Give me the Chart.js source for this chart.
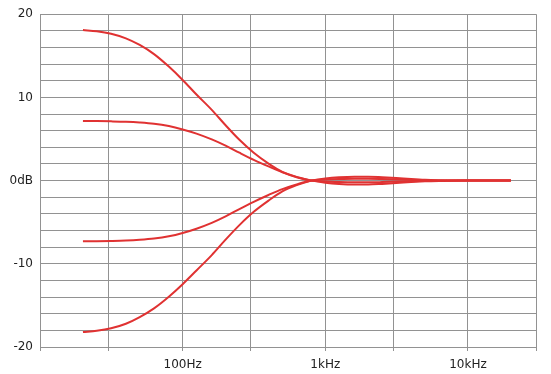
<!DOCTYPE html>
<html>
<head>
<meta charset="utf-8">
<script src="https://cdn.jsdelivr.net/npm/chart.js@4/dist/chart.umd.min.js"></script>
<style>
  html, body { margin: 0; padding: 0; background: #ffffff; }
  #wrap { width: 551px; height: 374px; }
</style>
</head>
<body>
<div id="wrap"><canvas id="c" width="551" height="374"></canvas></div>
<script>
// Frequencies (Hz) of the sampled points
const freqs = [20,25,31.5,40,50,63,80,100,125,160,200,250,315,400,500,630,800,1000,1250,1600,2000,2500,3150,4000,5000,6300,8000,10000,12500,16000,20000];
// Response curves (dB)
const boost18 = [18.1,17.95,17.65,17.1,16.3,15.2,13.7,12.1,10.35,8.5,6.65,4.9,3.35,2.05,1.05,0.4,0.0,-0.25,-0.4,-0.47,-0.47,-0.4,-0.3,-0.18,-0.09,-0.04,-0.01,0,0,0,0];
const boost7  = [7.17,7.15,7.12,7.07,6.98,6.83,6.55,6.15,5.65,4.95,4.2,3.35,2.5,1.7,1.0,0.45,0.0,-0.12,-0.18,-0.21,-0.21,-0.18,-0.13,-0.08,-0.04,-0.02,0,0,0,0,0];
const cut7    = [-7.3,-7.29,-7.26,-7.21,-7.12,-6.97,-6.7,-6.3,-5.78,-5.08,-4.3,-3.42,-2.55,-1.73,-1.02,-0.46,0.0,0.12,0.18,0.21,0.21,0.18,0.13,0.08,0.04,0.02,0,0,0,0,0];
const cut18   = [-18.2,-18.05,-17.75,-17.2,-16.4,-15.35,-13.95,-12.45,-10.8,-8.95,-7.1,-5.35,-3.75,-2.4,-1.3,-0.55,0.0,0.25,0.4,0.47,0.47,0.4,0.3,0.18,0.09,0.04,0.01,0,0,0,0];
// Axis ticks
const xGridValues = [10,30,100,300,1000,3000,10000,30000];
const xTickLabels = {100: '100Hz', 1000: '1kHz', 10000: '10kHz'};
const yLabelValues = [20, 10, 0, -10, -20];
const yLabelTexts  = ['20', '10', '0dB', '-10', '-20'];

const lineColor = 'rgb(224,50,50)';
const gridColor = '#929292';

function toPoints(ys) { return freqs.map((f, i) => ({x: f, y: ys[i]})); }

const series = [boost18, boost7, cut7, cut18];

new Chart(document.getElementById('c'), {
  type: 'line',
  data: {
    datasets: series.map(s => ({
      data: toPoints(s),
      borderColor: lineColor,
      borderWidth: 2,
      pointRadius: 0,
      fill: false,
      cubicInterpolationMode: 'monotone'
    }))
  },
  options: {
    responsive: false,
    animation: false,
    events: [],
    layout: { padding: { top: 13, right: 15, left: 0, bottom: 0 } },
    plugins: { legend: { display: false }, tooltip: { enabled: false } },
    scales: {
      x: {
        type: 'logarithmic',
        min: 10,
        max: 30000,
        afterBuildTicks: (scale) => { scale.ticks = xGridValues.map(v => ({value: v})); },
        afterFit: (scale) => { scale.height = 27; },
        grid: { color: gridColor, lineWidth: 1, drawTicks: true, tickLength: 4, tickColor: gridColor },
        border: { color: gridColor, width: 1 },
        ticks: {
          autoSkip: false,
          maxRotation: 0,
          padding: 7,
          color: '#222',
          font: { family: 'DejaVu Sans', size: 12 },
          callback: (v) => xTickLabels[v] || ''
        }
      },
      y: {
        min: -20,
        max: 20,
        afterFit: (scale) => { scale.width = 40; },
        grid: { color: gridColor, lineWidth: 1, drawTicks: false },
        border: { color: gridColor, width: 1 },
        ticks: {
          stepSize: 2,
          autoSkip: false,
          padding: 7,
          color: '#222',
          font: { family: 'DejaVu Sans', size: 12 },
          callback: (v) => {
            const i = yLabelValues.indexOf(v);
            return i >= 0 ? yLabelTexts[i] : '';
          }
        }
      }
    }
  }
});
</script>
</body>
</html>
